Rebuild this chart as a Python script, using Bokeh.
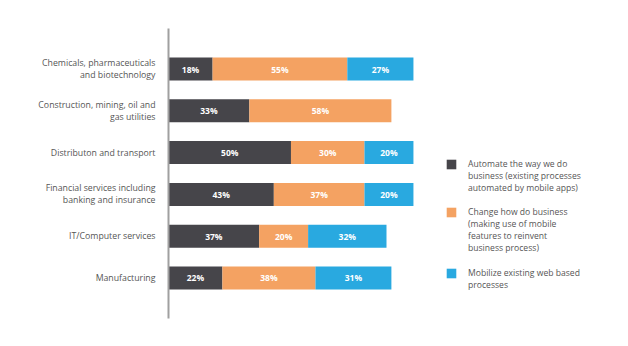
from bokeh.plotting import figure
from bokeh.models import ColumnDataSource, Range1d, Legend, LegendItem, FixedTicker
from bokeh.embed import file_html
from bokeh.resources import INLINE
from bokeh.core.properties import value

categories = [
    "Chemicals, pharmaceuticals\nand biotechnology",
    "Construction, mining, oil and\ngas utilities",
    "Distributon and transport",
    "Financial services including\nbanking and insurance",
    "IT/Computer services",
    "Manufacturing",
]
automate = [18, 33, 50, 43, 37, 22]
change = [55, 58, 30, 37, 20, 38]
mobilize = [27, 0, 20, 20, 32, 31]

series_names = ["automate", "change", "mobilize"]
series_labels = [
    ["Automate the way we do", "business (existing processes", "automated by mobile apps)"],
    ["Change how do business", "(making use of mobile", "features to reinvent", "business process)"],
    ["Mobilize existing web based", "processes"],
]
colors = ["#46454a", "#f4a262", "#29a9e0"]

FONT = "Open Sans"
TEXT_COLOR = "#555555"
ys = list(range(len(categories)))
source = ColumnDataSource(dict(y=ys, automate=automate, change=change, mobilize=mobilize))

p = figure(width=628, height=346, output_backend="svg", toolbar_location=None,
           x_range=Range1d(0, 187.8), y_range=Range1d(5.969, -0.969),
           min_border_left=168, min_border_right=0, min_border_top=28, min_border_bottom=28,
           frame_width=460, frame_height=290)

renderers = p.hbar_stack(series_names, y="y", height=0.55, color=colors, source=source, line_color=None)

# segment labels
lx, ly, lt = [], [], []
for i in ys:
    left = 0
    for vals in (automate, change, mobilize):
        v = vals[i]
        if v > 0:
            lx.append(left + v / 2)
            ly.append(i)
            lt.append(f"{v}%")
        left += v
p.text(x=lx, y=ly, text=lt, text_color="white", text_align="center", text_baseline="middle",
       text_font=value(FONT), text_font_size="8.5px", text_font_style="bold")

# invisible renderer used for continuation lines of legend labels
blank = p.scatter(x=[], y=[], size=1, fill_alpha=0, line_alpha=0)

legend_y = [124, 64, 27]
for k in range(3):
    lines = series_labels[k]
    items = [LegendItem(label=lines[0], renderers=[renderers[k]])]
    items += [LegendItem(label=ln, renderers=[blank]) for ln in lines[1:]]
    lg = Legend(items=items, location=(277, legend_y[k]), glyph_width=12, glyph_height=12,
                label_height=11, label_standoff=11, label_text_font=FONT,
                label_text_font_size="8.6px", label_text_color=TEXT_COLOR,
                spacing=0, padding=0, margin=0, border_line_color=None,
                background_fill_alpha=0)
    p.add_layout(lg, "center")

p.xaxis.visible = False
p.xgrid.visible = False
p.ygrid.visible = False
p.outline_line_color = None
yax = p.yaxis[0]
yax.ticker = FixedTicker(ticks=ys)
yax.major_label_overrides = {i: c for i, c in enumerate(categories)}
yax.major_tick_line_color = None
yax.minor_tick_line_color = None
yax.axis_line_color = "#a0a0a0"
yax.axis_line_width = 2
yax.major_label_standoff = 7
yax.major_label_text_font = FONT
yax.major_label_text_font_size = "8.75px"
yax.major_label_text_color = TEXT_COLOR
yax.major_label_text_line_height = 1.0

open("out.html", "w").write(file_html(p, INLINE))
